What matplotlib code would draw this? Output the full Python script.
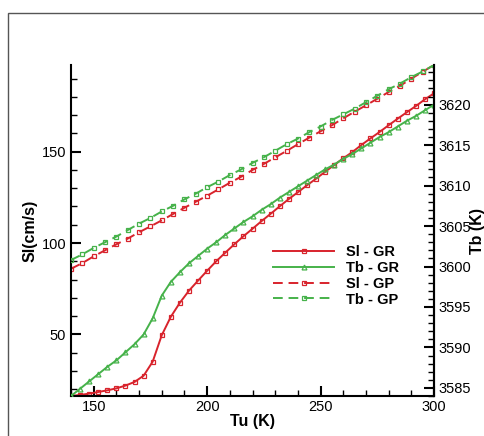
import matplotlib
matplotlib.use("Agg")
import matplotlib.pyplot as plt
import numpy as np
from matplotlib.patches import Rectangle
from matplotlib.ticker import MultipleLocator

plt.rcParams['font.family'] = ['Liberation Sans', 'DejaVu Sans']

# Tu (K) grids
tu_gr = list(range(140, 301, 4))
tu_gp = list(range(140, 301, 5))

sl_gr = [16.2, 16.8, 17.5, 18.4, 19.3, 20.4, 21.9, 23.9, 27.3, 35.0,
         49.5, 59.6, 67.3, 73.9, 79.4, 84.8, 90.0, 94.7, 99.3, 103.7,
         107.8, 112.0, 116.0, 120.1, 124.1, 127.8, 131.6, 135.2, 139.0, 142.7,
         146.4, 149.8, 153.7, 157.3, 160.8, 164.5, 168.1, 171.6, 175.0, 178.7,
         182.0]
tb_gr = [3584.0, 3584.9, 3585.8, 3586.7, 3587.6, 3588.4, 3589.4, 3590.4, 3591.6, 3593.6,
         3596.4, 3598.1, 3599.3, 3600.4, 3601.3, 3602.2, 3603.0, 3603.9, 3604.7, 3605.5,
         3606.2, 3607.0, 3607.7, 3608.5, 3609.2, 3609.9, 3610.6, 3611.3, 3612.0, 3612.6,
         3613.3, 3613.9, 3614.6, 3615.3, 3616.0, 3616.6, 3617.3, 3618.0, 3618.6, 3619.3,
         3620.0]
sl_gp = [85.9, 89.0, 92.7, 96.0, 99.3, 102.4, 105.9, 109.1, 112.4, 115.9,
         119.3, 122.6, 125.9, 129.4, 133.0, 136.3, 140.0, 143.3, 146.9, 150.4,
         154.1, 157.7, 161.2, 164.5, 168.3, 171.9, 175.4, 179.0, 182.7, 186.1,
         190.0, 193.8, 197.5]
tb_gp = [3600.8, 3601.5, 3602.3, 3603.0, 3603.7, 3604.5, 3605.3, 3606.0, 3606.8, 3607.5,
         3608.3, 3609.0, 3609.8, 3610.5, 3611.3, 3612.0, 3612.8, 3613.5, 3614.3, 3615.1,
         3615.8, 3616.6, 3617.3, 3618.1, 3618.8, 3619.5, 3620.3, 3621.1, 3621.9, 3622.6,
         3623.4, 3624.1, 3624.9]

red = '#d8232c'
green = '#46b24a'

fig = plt.figure(figsize=(4.84, 4.36), dpi=100)
fig.patches.append(Rectangle((8 / 484, -0.1), 1.1, (436 - 13) / 436 + 0.1,
                             transform=fig.transFigure, fill=False,
                             edgecolor='#555555', linewidth=1.0))

ax = fig.add_axes([71 / 484, 40 / 436, 363 / 484, 331 / 436])
ax2 = ax.twinx()

ms = 3.5
l1, = ax.plot(tu_gr, sl_gr, color=red, lw=1.4, marker='s', ms=ms,
              mfc='none', mec=red, mew=0.9, label='Sl - GR')
l2, = ax2.plot(tu_gr, tb_gr, color=green, lw=1.4, marker='^', ms=ms,
               mfc='none', mec=green, mew=0.9, label='Tb - GR')
l3, = ax.plot(tu_gp, sl_gp, color=red, lw=1.4, ls=(0, (5, 3)), marker='s', ms=ms,
              mfc='none', mec=red, mew=0.9, label='Sl - GP')
l4, = ax2.plot(tu_gp, tb_gp, color=green, lw=1.4, ls=(0, (5, 3)), marker='s', ms=ms,
               mfc='none', mec=green, mew=0.9, label='Tb - GP')

ax.set_xlim(140, 300)
ax.set_ylim(16.2, 197.5)
ax2.set_ylim(3584.0, 3624.9)

ax.xaxis.set_major_locator(MultipleLocator(50))
ax.xaxis.set_minor_locator(MultipleLocator(10))
ax.yaxis.set_major_locator(MultipleLocator(50))
ax.yaxis.set_minor_locator(MultipleLocator(10))
ax2.yaxis.set_major_locator(MultipleLocator(5))
ax2.yaxis.set_minor_locator(MultipleLocator(1))

for a in (ax, ax2):
    a.spines['top'].set_visible(False)
    for s in a.spines.values():
        s.set_linewidth(1.5)
    a.tick_params(which='major', direction='in', length=7, width=1.5, labelsize=10.5)
    a.tick_params(which='minor', direction='in', length=4, width=1.0)
ax.tick_params(axis='x', pad=3)
ax2.spines['left'].set_visible(False)
ax2.spines['bottom'].set_visible(False)

ax.set_xlabel('Tu (K)', fontsize=11.5, fontweight='bold', labelpad=0)
ax.set_ylabel('Sl(cm/s)', fontsize=11.5, fontweight='bold')
ax.yaxis.set_label_coords(-0.092, 0.5)
ax2.set_ylabel('Tb (K)', fontsize=11.5, fontweight='bold')
ax2.yaxis.set_label_coords(1.1, 0.5)

ax.legend(handles=[l1, l2, l3, l4], loc='upper left', bbox_to_anchor=(0.52, 0.495),
          frameon=False, numpoints=1, handlelength=4.2, handletextpad=0.8,
          labelspacing=0.12, prop={'weight': 'bold', 'size': 10.5})

fig.savefig('out.png', dpi=100)
